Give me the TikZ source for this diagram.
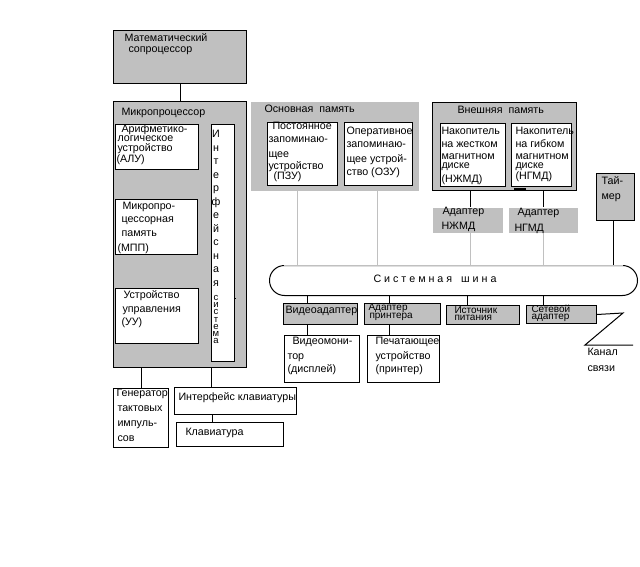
\documentclass[tikz,border=0pt]{standalone}
\usepackage{fontspec}
\setmainfont{Liberation Sans}
\definecolor{panelgray}{RGB}{192,192,192}
\tikzset{
  box/.style={draw, fill=white, inner sep=0pt, anchor=north west},
  graybox/.style={box, fill=panelgray},
  panel/.style={fill=panelgray, inner sep=0pt, anchor=north west},
  txt/.style={anchor=west, inner sep=0pt, text height=9pt, text depth=1.5pt, font=\fontsize{10.7}{12}\selectfont},
  tighttxt/.style={txt, text height=6.5pt, text depth=1pt, font=\fontsize{10}{11}\selectfont},
  letterstack/.style={anchor=north, inner sep=0pt, align=center}
}

\begin{document}
\begin{tikzpicture}[x=1pt, y=-1pt, line width=1pt]
\useasboundingbox (0,0) rectangle (640,567);

% Coprocessador
\node[graybox, minimum width=133pt, minimum height=53pt] (cop) at (113,30) {};
\node[txt] (cop1) at (124,38) {Математический};
\node[txt] (cop2) at (128,49) {сопроцессор};

% Microprocessador (caixa exterior)
\node[graybox, minimum width=133pt, minimum height=266pt] (mp) at (113,101) {};
\node[txt] (mp0) at (121,111.5) {Микропроцессор};

% ALU
\node[box, minimum width=83pt, minimum height=45pt] (alu) at (115,124) {};
\node[txt] (alu1) at (121,129) {Арифметико-};
\node[txt] (alu2) at (117,138) {логическое};
\node[txt] (alu3) at (117,148) {устройство};
\node[txt] (alu4) at (116,159) {(АЛУ)};

% Memoria do processador
\node[box, minimum width=82pt, minimum height=55pt] (mpp) at (115,199) {};
\node[txt] (mpp1) at (122,205.5) {Микропро-};
\node[txt] (mpp2) at (121,219) {цессорная};
\node[txt] (mpp3) at (121,233) {память};
\node[txt] (mpp4) at (117,248) {(МПП)};

% Unidade de controle
\node[box, minimum width=83pt, minimum height=55pt] (uu) at (115,288) {};
\node[txt] (uu1) at (123,295) {Устройство};
\node[txt] (uu2) at (122,309) {управления};
\node[txt] (uu3) at (121,322) {(УУ)};

% Sistema de interface (texto vertical)
\node[box, minimum width=23pt, minimum height=237pt] (isys) at (211,124) {};
\node[letterstack, font=\fontsize{10.7}{13.5}\selectfont] (isys1) at (216,129.7)
  {И\\н\\т\\е\\р\\ф\\е\\й\\с\\н\\а\\я};
\node[letterstack, font=\fontsize{9.5}{7.3}\selectfont] (isys2) at (216,294.5)
  {с\\и\\с\\т\\е\\м\\а};
\fill (234.5,297.5) rectangle (236,299);

% Memoria principal
\node[panel, minimum width=168pt, minimum height=88pt] (om) at (250,102) {};
\node[txt] (om0) at (264,108.5) {Основная\ \ память};
\node[box, minimum width=70pt, minimum height=63pt] (pzu) at (267,122) {};
\node[txt] (pzu1) at (272,126) {Постоянное};
\node[txt] (pzu2) at (268,139) {запоминаю-};
\node[txt] (pzu3) at (268,154) {щее};
\node[txt] (pzu4) at (268,166) {устройство};
\node[txt] (pzu5) at (273,176) {(ПЗУ)};
\node[box, minimum width=68pt, minimum height=63pt] (ozu) at (344,122) {};
\node[txt] (ozu1) at (346,131) {Оперативное};
\node[txt] (ozu2) at (346,144) {запоминаю-};
\node[txt] (ozu3) at (346,159) {щее устрой-};
\node[txt] (ozu4) at (346,172) {ство (ОЗУ)};

% Memoria externa
\node[graybox, minimum width=144pt, minimum height=88pt] (vm) at (432,102) {};
\node[txt] (vm0) at (457,110) {Внешняя\ \ память};
\node[box, minimum width=65pt, minimum height=63pt] (nzh) at (440,123) {};
\node[txt] (nzh1) at (441,130.5) {Накопитель};
\node[txt] (nzh2) at (441,144) {на жестком};
\node[txt] (nzh3) at (441,156) {магнитном};
\node[txt] (nzh4) at (441,165) {диске};
\node[txt] (nzh5) at (441,179) {(НЖМД)};
\node[box, minimum width=60pt, minimum height=63pt] (ngm) at (511,123) {};
\node[txt] (ngm1) at (515,130.5) {Накопитель};
\node[txt] (ngm2) at (515,144) {на гибком};
\node[txt] (ngm3) at (515,156) {магнитном};
\node[txt] (ngm4) at (515,165) {диске};
\node[txt] (ngm5) at (515,176) {(НГМД)};
\draw[line width=2pt] (514,189) -- (526,189);

% Adaptadores dos discos
\node[panel, minimum width=70pt, minimum height=25pt] (anzh) at (432,207) {};
\node[txt] (anzh1) at (442,211) {Адаптер};
\node[txt] (anzh2) at (441,226) {НЖМД};
\node[panel, minimum width=69pt, minimum height=25pt] (angm) at (508,207) {};
\node[txt] (angm1) at (517,212) {Адаптер};
\node[txt] (angm2) at (514,228) {НГМД};

% Temporizador
\node[graybox, minimum width=38pt, minimum height=47pt] (tmr) at (596,173) {};
\node[txt] (tmr1) at (601,180.5) {Тай-};
\node[txt] (tmr2) at (601,196) {мер};

% Barramento do sistema
\node[draw, rounded corners=15pt, minimum width=368pt, minimum height=30pt, inner sep=0pt, anchor=north west] (bus) at (269,265) {};
\draw[panelgray] ([xshift=15pt]bus.north west) -- ([xshift=-15pt]bus.north east);
\node[txt] (bus0) at (373,279) {С и с т е м н а я \ \ ш и н а};

% Adaptadores no barramento
\node[graybox, minimum width=74pt, minimum height=21pt] (vad) at (283,303) {};
\node[txt] (vad1) at (285,310) {Видеоадаптер};
\node[graybox, minimum width=76pt, minimum height=21pt] (apr) at (364,303) {};
\node[tighttxt] (apr1) at (368,308) {Адаптер};
\node[tighttxt] (apr2) at (369,316) {принтера};
\node[graybox, minimum width=73pt, minimum height=19pt] (ist) at (446,305) {};
\node[tighttxt] (ist1) at (454,310.5) {Источник};
\node[tighttxt] (ist2) at (454,318) {питания};
\node[graybox, minimum width=70pt, minimum height=18pt] (net) at (526,305) {};
\node[tighttxt] (net1) at (531,309.5) {Сетевой};
\node[tighttxt] (net2) at (531,317) {адаптер};

% Perifericos
\node[box, minimum width=75pt, minimum height=47pt] (vmon) at (284,335) {};
\node[txt] (vmon1) at (292,341) {Видеомони-};
\node[txt] (vmon2) at (287,356) {тор};
\node[txt] (vmon3) at (287,369) {(дисплей)};
\node[box, minimum width=72pt, minimum height=47pt] (pech) at (367,335) {};
\node[txt] (pech1) at (375,341) {Печатающее};
\node[txt] (pech2) at (375,356) {устройство};
\node[txt] (pech3) at (375,369) {(принтер)};

% Canal de comunicacao
\coordinate (z1) at (623,313);
\coordinate (z2) at (585,345);
\coordinate (z3) at (633,345);
\node[txt] (kan1) at (587,352) {Канал};
\node[txt] (kan2) at (587,368) {связи};

% Gerador, interface e teclado
\node[box, minimum width=55pt, minimum height=59pt] (gen) at (113,388) {};
\node[txt] (gen1) at (116,393) {Генератор};
\node[txt] (gen2) at (117,408) {тактовых};
\node[txt] (gen3) at (117,423) {импуль-};
\node[txt] (gen4) at (117,437.5) {сов};
\node[box, minimum width=122pt, minimum height=27pt] (ik) at (174,387) {};
\node[txt] (ik1) at (178,397) {Интерфейс клавиатуры};
\node[box, minimum width=107pt, minimum height=24pt] (kl) at (176,422) {};
\node[txt] (kl1) at (185,432) {Клавиатура};

% Ligacoes
\draw (cop.south) -- (cop.south |- mp.north);
\draw[panelgray] (297,0 |- om.south) -- (297,0 |- bus.north);
\draw[panelgray] (377,0 |- om.south) -- (377,0 |- bus.north);
\draw (470,0 |- vm.south) -- (470,0 |- anzh.north);
\draw (543,0 |- vm.south) -- (543,0 |- angm.north);
\draw[panelgray] (470,0 |- anzh.south) -- (470,0 |- bus.north);
\draw[panelgray] (543,0 |- angm.south) -- (543,0 |- bus.north);
\draw (613,0 |- tmr.south) -- (613,0 |- bus.north);
\draw (307,0 |- bus.south) -- (307,0 |- vad.north);
\draw (389,0 |- bus.south) -- (389,0 |- apr.north);
\draw (467,0 |- bus.south) -- (467,0 |- ist.north);
\draw (543,0 |- bus.south) -- (543,0 |- net.north);
\draw (307,0 |- vad.south) -- (307,0 |- vmon.north);
\draw (389,0 |- apr.south) -- (389,0 |- pech.north);
\draw (net.east) -- (z1) -- (z2) -- (z3);
\draw (gen.north) -- (gen.north |- mp.south);
\draw (isys.south west |- ik.north) -- (isys.south west |- mp.south);
\draw (212,0 |- ik.south) -- (212,0 |- kl.north);

\end{tikzpicture}
\end{document}
